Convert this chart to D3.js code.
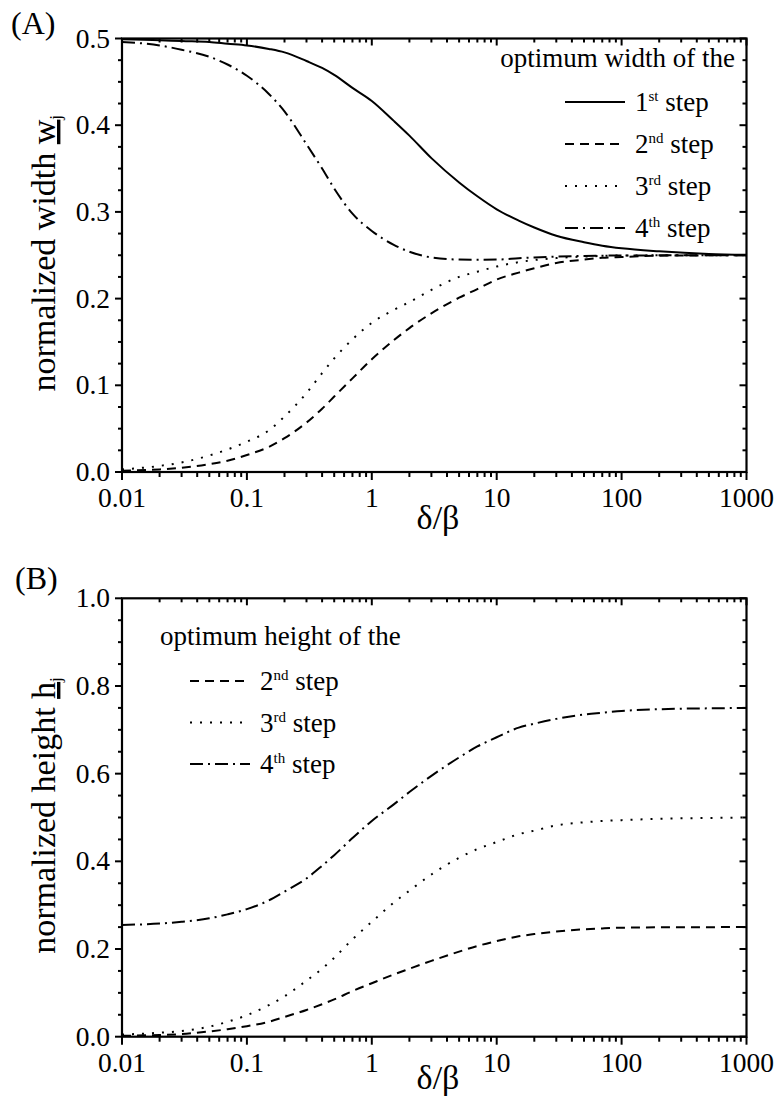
<!DOCTYPE html>
<html>
<head>
<meta charset="utf-8">
<script src="https://cdn.jsdelivr.net/npm/d3@7"></script>
<style>
    body { margin: 0; background: #fff; }
</style>
</head>
<body>
<div id="chart"></div>
<script>
// δ/β sample points shared by every curve
const ratio = [0.01, 0.02, 0.03, 0.05, 0.07, 0.1, 0.15, 0.2, 0.3, 0.4, 0.5, 0.7, 1, 1.5, 2, 3, 5, 7, 10, 15, 20, 30, 50, 70, 100, 200, 500, 1000];

// panel A: normalized width of each step
const width1 = [0.499, 0.498, 0.497, 0.496, 0.494, 0.492, 0.488, 0.484, 0.474, 0.466, 0.458, 0.443, 0.428, 0.405, 0.388, 0.362, 0.334, 0.318, 0.303, 0.290, 0.282, 0.2725, 0.265, 0.261, 0.258, 0.2545, 0.2515, 0.2505];
const width2 = [0.0015, 0.003, 0.005, 0.009, 0.013, 0.0196, 0.029, 0.039, 0.057, 0.073, 0.087, 0.108, 0.130, 0.152, 0.166, 0.183, 0.201, 0.211, 0.222, 0.230, 0.235, 0.241, 0.245, 0.247, 0.248, 0.2495, 0.2499, 0.25];
const width3 = [0.003, 0.007, 0.011, 0.019, 0.026, 0.035, 0.048, 0.064, 0.091, 0.114, 0.131, 0.153, 0.172, 0.187, 0.196, 0.210, 0.225, 0.231, 0.237, 0.242, 0.2445, 0.2467, 0.2485, 0.2492, 0.2497, 0.2499, 0.25, 0.25];
const width4 = [0.496, 0.492, 0.487, 0.479, 0.470, 0.457, 0.436, 0.416, 0.378, 0.350, 0.327, 0.298, 0.278, 0.262, 0.254, 0.2475, 0.245, 0.2448, 0.245, 0.2465, 0.2475, 0.2485, 0.2492, 0.2495, 0.2497, 0.2499, 0.25, 0.25];

// panel B: normalized height of each step
const height2 = [0.002, 0.004, 0.006, 0.012, 0.017, 0.024, 0.034, 0.045, 0.061, 0.074, 0.085, 0.104, 0.122, 0.142, 0.155, 0.173, 0.194, 0.207, 0.218, 0.229, 0.234, 0.240, 0.245, 0.247, 0.2486, 0.2495, 0.2499, 0.25];
const height3 = [0.005, 0.009, 0.013, 0.023, 0.034, 0.049, 0.072, 0.092, 0.128, 0.155, 0.180, 0.222, 0.262, 0.306, 0.333, 0.370, 0.408, 0.428, 0.444, 0.462, 0.470, 0.482, 0.489, 0.492, 0.494, 0.497, 0.499, 0.5];
const height4 = [0.255, 0.258, 0.262, 0.270, 0.279, 0.291, 0.311, 0.331, 0.361, 0.390, 0.414, 0.453, 0.492, 0.530, 0.558, 0.595, 0.637, 0.662, 0.683, 0.705, 0.714, 0.725, 0.735, 0.739, 0.743, 0.747, 0.749, 0.75];

const xTicks = [0.01, 0.1, 1, 10, 100, 1000];
const xTickLabels = ['0.01', '0.1', '1', '10', '100', '1000'];
const yTicksA = [0, 0.1, 0.2, 0.3, 0.4, 0.5];
const yTicksB = [0, 0.2, 0.4, 0.6, 0.8, 1.0];

const stepNames = ['1', '2', '3', '4'];
const stepSups = ['st', 'nd', 'rd', 'th'];

const dashes = {
    solid: null,
    dash: '9,6',
    dot: '2,8',
    dashdot: '13,5,2,5'
};

const FONT = "'Liberation Serif', 'DejaVu Serif', serif";

const svg = d3.select('#chart')
    .append('svg')
        .attr('width', 782)
        .attr('height', 1100)
        .attr('font-family', FONT)
        .style('font-family', FONT);

const left = 122, right = 746.5;
const majorLen = 7, minorLen = 4;

const xScale = d3.scaleLog()
    .domain([0.01, 1000])
    .range([left, right]);

const minorX = [];
for (let p = -2; p < 3; p++) {
    for (let m = 2; m < 10; m++) minorX.push(m * Math.pow(10, p));
}

const drawPanel = cfg => {
    const yScale = d3.scaleLinear()
        .domain([0, cfg.ymax])
        .range([cfg.bottom, cfg.top]);

    const g = svg.append('g');

    // ticks: outside on bottom/left, inside on top/right
    const tick = (x1, y1, x2, y2) => g.append('line')
        .attr('x1', x1).attr('y1', y1).attr('x2', x2).attr('y2', y2)
        .attr('stroke', '#000').attr('stroke-width', 2);

    xTicks.forEach(v => {
        const x = xScale(v);
        tick(x, cfg.bottom, x, cfg.bottom + majorLen + 1);
        tick(x, cfg.top, x, cfg.top + majorLen);
    });
    minorX.forEach(v => {
        const x = xScale(v);
        tick(x, cfg.bottom, x, cfg.bottom + minorLen + 1);
        tick(x, cfg.top, x, cfg.top + minorLen);
    });

    const yMinor = d3.range(0, cfg.ymax + 1e-9, cfg.ystep / 4);
    yMinor.forEach((v, i) => {
        const y = yScale(v);
        const len = i % 4 === 0 ? majorLen : minorLen;
        tick(left - len, y, left, y);
        tick(right - len, y, right, y);
    });

    // frame
    g.append('rect')
        .attr('x', left).attr('y', cfg.top)
        .attr('width', right - left).attr('height', cfg.bottom - cfg.top)
        .attr('fill', 'none').attr('stroke', '#000').attr('stroke-width', 2.2);

    // tick labels
    g.selectAll('.xlab')
        .data(xTicks)
        .enter()
        .append('text')
            .attr('x', d => xScale(d))
            .attr('y', cfg.bottom + 35)
            .attr('text-anchor', 'middle')
            .style('font-size', '27.5px')
            .text((d, i) => xTickLabels[i]);

    g.selectAll('.ylab')
        .data(cfg.yTicks)
        .enter()
        .append('text')
            .attr('x', left - 12)
            .attr('y', d => yScale(d) + 9)
            .attr('text-anchor', 'end')
            .style('font-size', '27.5px')
            .text(d => d3.format('.1f')(d));

    // axis titles
    g.append('text')
        .attr('x', 438)
        .attr('y', cfg.xTitleY)
        .attr('text-anchor', 'middle')
        .style('font-size', '34px')
        .text('δ/β');

    const yt = g.append('text')
        .attr('transform', `translate(55, ${(cfg.top + cfg.bottom) / 2 - 2}) rotate(-90)`)
        .attr('text-anchor', 'middle')
        .style('font-size', '34px');
    yt.append('tspan').text(cfg.yTitle + ' ');
    yt.append('tspan').attr('text-decoration', 'underline').text(cfg.yVar);
    yt.append('tspan').attr('dy', 6).style('font-size', '17px').text('j');

    g.append('text')
        .attr('x', cfg.tagX)
        .attr('y', cfg.tagY)
        .style('font-size', '32px')
        .text(cfg.tag);

    // curves
    const line = d3.line()
        .x(d => xScale(d[0]))
        .y(d => yScale(d[1]))
        .curve(d3.curveMonotoneX);

    g.selectAll('.series')
        .data(cfg.series)
        .enter()
        .append('path')
            .attr('class', 'series')
            .attr('d', s => line(ratio.map((r, i) => [r, s.values[i]])))
            .attr('fill', 'none')
            .attr('stroke', '#000')
            .attr('stroke-width', 2)
            .attr('stroke-dasharray', s => dashes[s.style]);

    // legend
    g.append('text')
        .attr('x', cfg.legend.headX)
        .attr('y', cfg.legend.headY)
        .attr('text-anchor', cfg.legend.headAnchor)
        .style('font-size', '27px')
        .text(cfg.legend.head);

    cfg.series.forEach((s, i) => {
        const y = cfg.legend.y0 + i * cfg.legend.gap;
        g.append('line')
            .attr('x1', cfg.legend.x0).attr('x2', cfg.legend.x0 + 60)
            .attr('y1', y).attr('y2', y)
            .attr('stroke', '#000').attr('stroke-width', 2)
            .attr('stroke-dasharray', dashes[s.style]);
        const t = g.append('text')
            .attr('x', cfg.legend.x0 + 70)
            .attr('y', y + 9)
            .style('font-size', '27px');
        t.append('tspan').text(stepNames[s.step]);
        t.append('tspan').attr('dy', -10).style('font-size', '15px').text(stepSups[s.step]);
        t.append('tspan').attr('dy', 10).text(' step');
    });
};

drawPanel({
    top: 38.5, bottom: 472, ymax: 0.5, ystep: 0.1, yTicks: yTicksA,
    yTitle: 'normalized width', yVar: 'w',
    xTitleY: 529, tag: '(A)', tagX: 11, tagY: 34,
    series: [
        { step: 0, values: width1, style: 'solid' },
        { step: 1, values: width2, style: 'dash' },
        { step: 2, values: width3, style: 'dot' },
        { step: 3, values: width4, style: 'dashdot' }
    ],
    legend: { head: 'optimum width of the', headX: 735, headY: 67, headAnchor: 'end', x0: 565, y0: 102, gap: 42 }
});

drawPanel({
    top: 598.3, bottom: 1036.7, ymax: 1.0, ystep: 0.2, yTicks: yTicksB,
    yTitle: 'normalized height', yVar: 'h',
    xTitleY: 1089, tag: '(B)', tagX: 15, tagY: 589,
    series: [
        { step: 1, values: height2, style: 'dash' },
        { step: 2, values: height3, style: 'dot' },
        { step: 3, values: height4, style: 'dashdot' }
    ],
    legend: { head: 'optimum height of the', headX: 160, headY: 645, headAnchor: 'start', x0: 190, y0: 681, gap: 41.5 }
});
</script>
</body>
</html>
